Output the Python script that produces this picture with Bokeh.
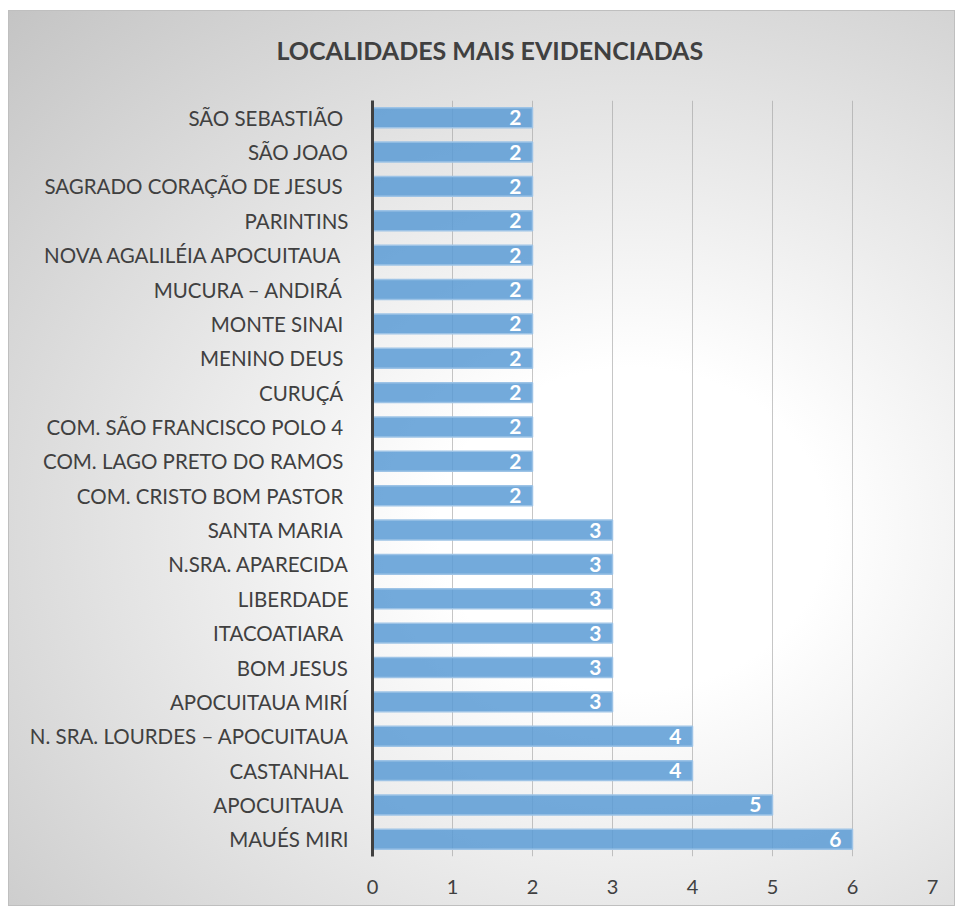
from bokeh.plotting import figure
from bokeh.models import FactorRange, Range1d, ColumnDataSource, FixedTicker, Title
from bokeh.embed import file_html
from bokeh.resources import INLINE
from bokeh.core.properties import value

# Data (top to bottom as in the chart)
localidades = [
    "SÃO SEBASTIÃO ",
    "SÃO JOAO",
    "SAGRADO CORAÇÃO DE JESUS ",
    "PARINTINS",
    "NOVA AGALILÉIA APOCUITAUA ",
    "MUCURA – ANDIRÁ ",
    "MONTE SINAI ",
    "MENINO DEUS ",
    "CURUÇÁ ",
    "COM. SÃO FRANCISCO POLO 4 ",
    "COM. LAGO PRETO DO RAMOS ",
    "COM. CRISTO BOM PASTOR ",
    "SANTA MARIA ",
    "N.SRA. APARECIDA",
    "LIBERDADE",
    "ITACOATIARA ",
    "BOM JESUS",
    "APOCUITAUA MIRÍ",
    "N. SRA. LOURDES – APOCUITAUA",
    "CASTANHAL",
    "APOCUITAUA ",
    "MAUÉS MIRI",
]
contagens = [2, 2, 2, 2, 2, 2, 2, 2, 2, 2, 2, 2, 3, 3, 3, 3, 3, 3, 4, 4, 5, 6]
x_ticks = [0, 1, 2, 3, 4, 5, 6, 7]
titulo = "LOCALIDADES MAIS EVIDENCIADAS"

FONT = "Lato"
TXT = "#404040"

source = ColumnDataSource(data=dict(
    loc=localidades,
    val=contagens,
    lab=[str(v) for v in contagens],
))

p = figure(
    width=947, height=896,
    y_range=FactorRange(factors=list(reversed(localidades)), range_padding=0),
    x_range=Range1d(0, 7),
    output_backend="svg", toolbar_location=None,
    min_border_left=363, min_border_right=24, min_border_top=89, min_border_bottom=51,
)
p.title = Title(text=titulo, align="left", text_font=FONT, text_font_size="25px",
                text_font_style="bold", text_color=TXT, offset=-96, standoff=4)
# blank spacer between the title and the plot area
p.add_layout(Title(text=" ", text_font=FONT, text_font_size="10px", standoff=20,
                   text_color=TXT), "above")

p.styles = {
    "background": "radial-gradient(ellipse farthest-corner at 66% 58%, #ffffff 0%, #ffffff 22%, #c4c4c4 100%)",
    "border": "1px solid #bfbfbf",
    "margin": "10px 0px 0px 8px",
}
p.border_fill_color = None
p.background_fill_color = None
p.outline_line_color = None

p.hbar(y="loc", right="val", left=0, height=0.58, source=source,
       fill_color="#5B9BD5", fill_alpha=0.85, line_color="#9DC3E6", line_width=1.5)

p.text(x="val", y="loc", text="lab", source=source, x_offset=-11,
       text_align="right", text_baseline="middle",
       text_font=value(FONT), text_font_size="21px", text_font_style="bold",
       text_color="white")

p.xgrid.ticker = FixedTicker(ticks=x_ticks)
p.xgrid.grid_line_color = "#a0a0a0"
p.xgrid.grid_line_alpha = 0.6
p.xgrid.level = "underlay"
p.ygrid.grid_line_color = None

p.xaxis.ticker = FixedTicker(ticks=x_ticks)
p.xaxis.axis_line_color = None
p.xaxis.major_tick_line_color = None
p.xaxis.minor_tick_line_color = None
p.xaxis.major_label_standoff = 17
p.xaxis.major_label_text_font = FONT
p.xaxis.major_label_text_font_size = "20px"
p.xaxis.major_label_text_color = TXT

p.yaxis.axis_line_color = "#404040"
p.yaxis.axis_line_width = 3
p.yaxis.major_tick_line_color = None
p.yaxis.minor_tick_line_color = None
p.yaxis.major_label_standoff = 18
p.yaxis.major_label_text_font = FONT
p.yaxis.major_label_text_font_size = "20.5px"
p.yaxis.major_label_text_color = TXT

open("out.html", "w").write(file_html(p, INLINE))
